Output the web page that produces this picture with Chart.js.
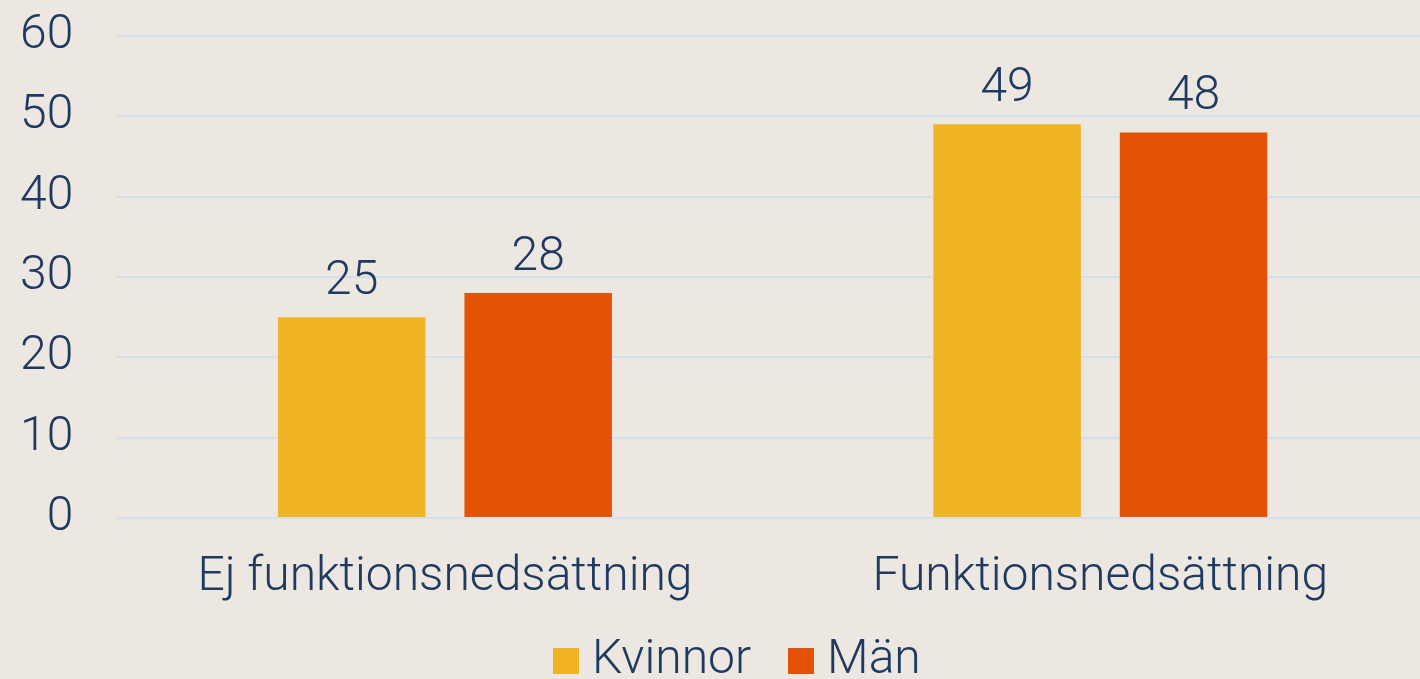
<!DOCTYPE html>
<html><head><meta charset="utf-8">
<script src="https://cdn.jsdelivr.net/npm/chart.js@4/dist/chart.umd.min.js"></script>
<style>
html,body{margin:0;padding:0;background:#ECE7E1;overflow:hidden;}
#wrap{width:1420px;height:679px;position:relative;}
</style></head>
<body><div id="wrap"><canvas id="c" width="1420" height="679"></canvas></div>
<script>
const categories = ["Ej funktionsnedsättning", "Funktionsnedsättning"];
const seriesNames = ["Kvinnor", "Män"];
const kvinnor = [25, 49];
const man = [28, 48];
const yTicks = [0, 10, 20, 30, 40, 50, 60];
const seriesColors = ["#F0B323", "#E35205"];

const textColor = "#1F3A60";
const fontFamily = "Roboto";
const font48 = { family: fontFamily, size: 48, weight: 300 };
const xAxisTrim = 49.1;

// legend swatches (26x26 squares)
const swatches = seriesColors.map(c => {
  const cv = document.createElement("canvas");
  cv.width = 26; cv.height = 26;
  const g = cv.getContext("2d");
  g.fillStyle = c; g.fillRect(0, 0, 26, 26);
  return cv;
});

const labelPlugin = {
  id: "valueLabels",
  afterDatasetsDraw(chart) {
    const ctx = chart.ctx;
    ctx.save();
    ctx.fillStyle = textColor;
    ctx.font = "300 48px " + fontFamily;
    ctx.textAlign = "center";
    ctx.textBaseline = "alphabetic";
    chart.data.datasets.forEach((ds, i) => {
      chart.getDatasetMeta(i).data.forEach((bar, j) => {
        ctx.fillText(String(ds.data[j]), bar.x, bar.y - 23);
      });
    });
    ctx.restore();
  }
};

const layoutTweak = {
  id: "layoutTweak",
  afterLayout(chart) {
    const x = chart.scales.x;
    // plot area continues slightly past the right edge (cropped original)
    x.right += 8; x.width += 8;
    // give the labels their full height back (legend overlaps the empty space)
    x.bottom += xAxisTrim; x.height += xAxisTrim;
    x.configure();
    // shift the legend so that it sits where the original one does
    const lg = chart.legend;
    const pad = lg.options.labels.padding;
    const startX = (lg.left + pad + lg.right - lg.lineWidths[0]) / 2;
    const d = 564 - startX;
    lg.left += d; lg.right += d;
  }
};

new Chart(document.getElementById("c"), {
  type: "bar",
  data: {
    labels: categories,
    datasets: [
      { label: seriesNames[0], data: kvinnor, backgroundColor: seriesColors[0] },
      { label: seriesNames[1], data: man, backgroundColor: seriesColors[1] }
    ]
  },
  options: {
    responsive: false,
    animation: false,
    devicePixelRatio: 1,
    layout: { padding: { top: 36, right: 0, left: 20, bottom: -15.5 } },
    datasets: { bar: { categoryPercentage: 0.569, barPercentage: 0.791 } },
    plugins: {
      legend: {
        position: "bottom",
        labels: {
          color: textColor,
          font: font48,
          usePointStyle: true,
          pointStyleWidth: 4,
          boxHeight: 26,
          padding: 48,
          generateLabels(chart) {
            const items = Chart.defaults.plugins.legend.labels.generateLabels(chart);
            items.forEach((it, i) => { it.pointStyle = swatches[i]; });
            return items;
          }
        }
      },
      tooltip: { enabled: false }
    },
    scales: {
      x: {
        grid: { display: false, drawTicks: false },
        border: { display: false },
        ticks: { color: textColor, font: font48, padding: 31 },
        afterFit(axis) { axis.height -= xAxisTrim; }
      },
      y: {
        min: 0, max: 60,
        afterBuildTicks(axis) { axis.ticks = yTicks.map(v => ({ value: v })); },
        grid: { color: "#D3DEEE", lineWidth: 2, drawTicks: true, tickLength: 44, tickColor: "rgba(0,0,0,0)" },
        border: { display: false },
        ticks: { color: textColor, font: font48, padding: 0 }
      }
    }
  },
  plugins: [labelPlugin, layoutTweak]
});
</script></body></html>
